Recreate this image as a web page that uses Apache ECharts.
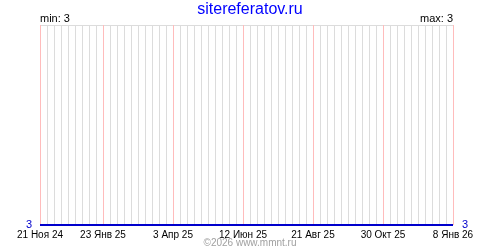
<!DOCTYPE html>
<html><head><meta charset="utf-8">
<script src="https://cdn.jsdelivr.net/npm/echarts@6/dist/echarts.min.js"></script>
<style>html,body{margin:0;padding:0;background:#fff}#c{width:500px;height:250px}</style>
</head><body><div id="c"></div>
<script>
const chartTitle = 'sitereferatov.ru';
const footerText = '©2026 www.mmnt.ru';
const pointDates = ['2024-11-21', '2026-01-08'];
const pointValues = [3, 3];
const tickDates = ['2024-11-21','2025-01-23','2025-04-03','2025-06-12','2025-08-21','2025-10-30','2026-01-08'];
const tickLabels = ['21 Ноя 24','23 Янв 25','3 Апр 25','12 Июн 25','21 Авг 25','30 Окт 25','8 Янв 26'];
const minLabel = 'min: 3';
const maxLabel = 'max: 3';
const yTickValues = [3];
const weekStep = 7;

const day = s => Date.UTC(+s.slice(0,4), +s.slice(5,7)-1, +s.slice(8,10)) / 86400000;
const tickDays = tickDates.map(day);
const xMin = tickDays[0], xMax = tickDays[tickDays.length-1];
const labelOf = {};
tickDays.forEach((d,i) => labelOf[d] = tickLabels[i]);
const seriesData = pointDates.map((d,i) => [day(d), pointValues[i]]);

const GRAY = '#dcdcdc', PINK = '#ffbcbc';
const FONT = '"Liberation Sans", Arial, sans-serif';
const chart = echarts.init(document.getElementById('c'), null, {renderer:'canvas'});
chart.setOption({
  animation: false,
  backgroundColor: '#fff',
  grid: {left: 40, right: 47, top: 25, bottom: 25, containLabel: false},
  graphic: [
    {type:'text', left:'center', top:2, style:{text:chartTitle, fill:'#0000ff', font:'16px '+FONT}},
    {type:'text', left:40, top:13, style:{text:minLabel, fill:'#000', font:'11px '+FONT}},
    {type:'text', right:47, top:13, style:{text:maxLabel, fill:'#000', font:'11px '+FONT}},
    {type:'text', left:'center', top:238, style:{text:footerText, fill:'#a0a0a0', font:'10px '+FONT}}
  ],
  xAxis: [
    {type:'value', position:'bottom', min:xMin, max:xMax, interval:weekStep,
     axisLine:{show:false}, axisTick:{show:false}, axisLabel:{show:false},
     splitLine:{show:true, lineStyle:{color:GRAY, width:1}}},
    {type:'value', position:'bottom', min:xMin, max:xMax,
     axisLine:{show:false},
     axisTick:{show:false, customValues: tickDays},
     axisLabel:{show:true, customValues: tickDays, formatter: v => labelOf[v] || '', color:'#000',
       fontSize:10, fontFamily:FONT, margin:5, hideOverlap:false, showMinLabel:true, showMaxLabel:true},
     splitLine:{show:false}}
  ],
  yAxis: [
    {type:'value', min:3, max:4, interval:1, position:'left',
     axisLine:{show:false}, axisTick:{show:false},
     axisLabel:{customValues: yTickValues, color:'#0000cc', fontSize:11, fontFamily:FONT, margin:8},
     splitLine:{show:true, lineStyle:{color:GRAY}}},
    {type:'value', min:3, max:4, interval:1, position:'right',
     axisLine:{show:false}, axisTick:{show:false},
     axisLabel:{customValues: yTickValues, color:'#0000cc', fontSize:11, fontFamily:FONT, margin:9},
     splitLine:{show:false}}
  ],
  series: [
    {type:'custom', xAxisIndex:0, yAxisIndex:0, silent:true, z:3,
     data: tickDays.map(d => [d]),
     encode: {x: 0},
     renderItem: (params, api) => {
       const top = api.coord([api.value(0), 4]);
       const bot = api.coord([api.value(0), 3]);
       const x = Math.round(top[0]) + 0.5;
       return {type:'line', shape:{x1:x, y1:top[1], x2:x, y2:bot[1]},
               style:{stroke:PINK, lineWidth:1}};
     }},
    {type:'line', xAxisIndex:0, yAxisIndex:0, data: seriesData, symbol:'none', z:4,
     lineStyle:{color:'#0000cc', width:2}}
  ]
});
</script></body></html>
